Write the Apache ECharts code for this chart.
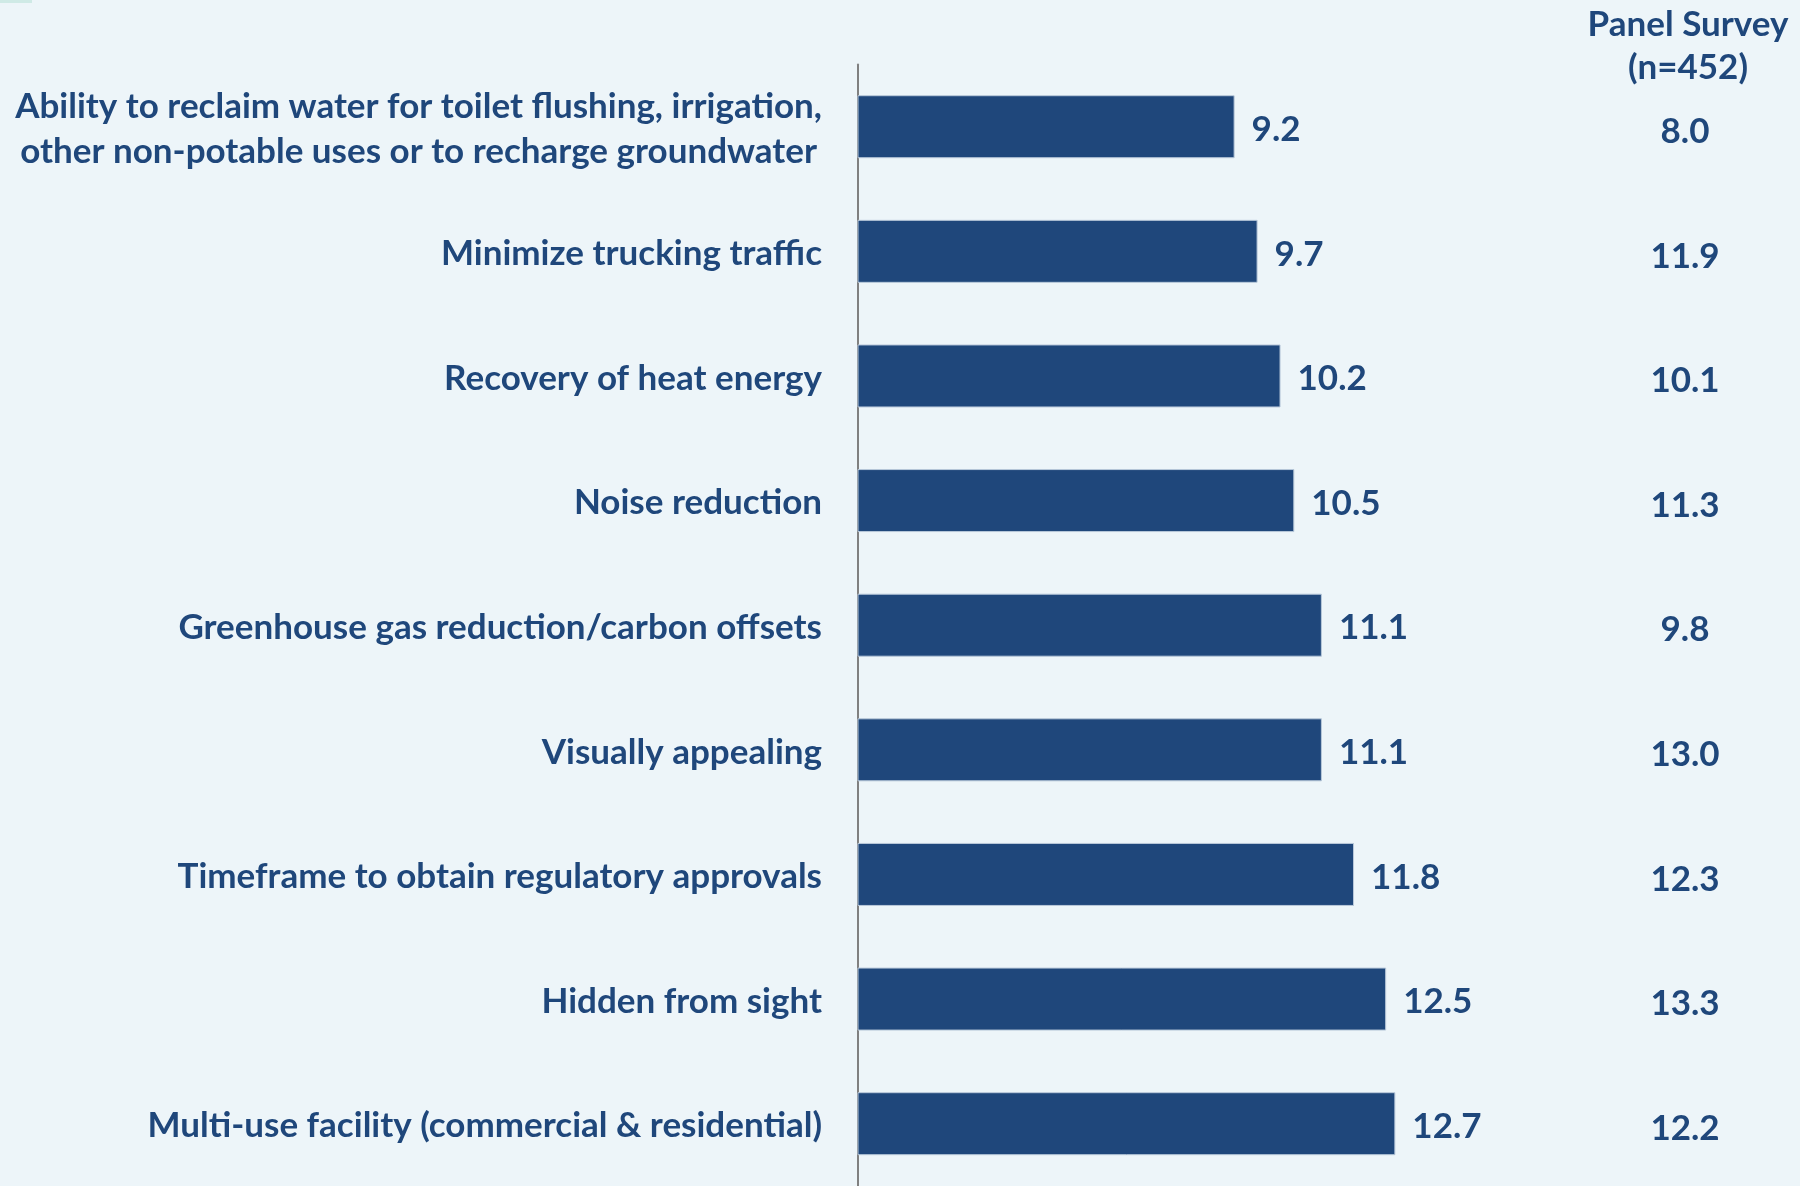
<!DOCTYPE html>
<html><head><meta charset="utf-8">
<script src="https://cdn.jsdelivr.net/npm/echarts@6/dist/echarts.min.js"></script>
<style>html,body{margin:0;padding:0;background:#edf5f9}#c{width:1800px;height:1186px}</style>
</head><body><div id="c"></div>
<script>
const categories = [
  "Ability to reclaim water for toilet flushing, irrigation,\nother non-potable uses or to recharge groundwater",
  "Minimize trucking traffic",
  "Recovery of heat energy",
  "Noise reduction",
  "Greenhouse gas reduction/carbon offsets",
  "Visually appealing",
  "Timeframe to obtain regulatory approvals",
  "Hidden from sight",
  "Multi-use facility (commercial & residential)"
];
const mainValues = [9.2, 9.7, 10.2, 10.5, 11.1, 11.1, 11.8, 12.5, 12.7];
const panelValues = [8.0, 11.9, 10.1, 11.3, 9.8, 13.0, 12.3, 13.3, 12.2];
const panelHeader = "Panel Survey\n(n=452)";

const FONT = "Lato";
const FS = 35;
const COLOR = "#1f477b";

const chart = echarts.init(document.getElementById('c'), null, {renderer: 'canvas'});
chart.setOption({
  backgroundColor: '#edf5f9',
  animation: false,
  textStyle: {fontFamily: FONT},
  grid: {left: 858, top: 64.4, width: 643, height: 1127},
  xAxis: {type: 'value', min: 1, max: 15, show: false, splitLine: {show: false}},
  yAxis: [
    {
      type: 'category', inverse: true, data: categories,
      axisLine: {show: true, lineStyle: {color: '#808080', width: 2}},
      axisTick: {show: false},
      axisLabel: {
        margin: 36, fontFamily: FONT, fontSize: FS, fontWeight: 'bold', color: COLOR,
        padding: [5, 0, 0, 0],
        formatter: function (v) {
          if (v.indexOf('\n') >= 0) return '{c|' + v.replace('\n', '}\n{c|') + '}';
          return v;
        },
        rich: {c: {align: 'center', fontFamily: FONT, fontSize: FS, fontWeight: 'bold', color: COLOR, lineHeight: 45}}
      }
    },
    {
      type: 'category', inverse: true, position: 'right',
      data: panelValues.map(v => v.toFixed(1)),
      axisLine: {show: false}, axisTick: {show: false},
      axisLabel: {
        margin: 184, align: 'center', fontFamily: FONT, fontSize: FS, fontWeight: 'bold', color: COLOR,
        formatter: v => '{v|' + v + '}',
        rich: {v: {fontFamily: FONT, fontSize: FS, fontWeight: 'bold', color: COLOR, padding: [10, 0, 0, 0]}}
      }
    }
  ],
  series: [{
    type: 'bar', yAxisIndex: 0, data: mainValues, barWidth: 63,
    itemStyle: {color: COLOR, borderColor: '#b9c9da', borderWidth: 1},
    label: {
      show: true, position: 'right', distance: 17, offset: [0, 3],
      fontFamily: FONT, fontSize: FS, fontWeight: 'bold', color: COLOR,
      formatter: p => p.value.toFixed(1)
    }
  }],
  graphic: [
    {type: 'rect', shape: {x: 0, y: 0, width: 32, height: 3}, style: {fill: '#cfeae6'}},
    {type: 'text', x: 1688, y: 3, style: {text: panelHeader, textAlign: 'center', fontFamily: FONT, fontSize: FS, fontWeight: 'bold', fill: COLOR, lineHeight: 43}}
  ]
});
</script></body></html>
